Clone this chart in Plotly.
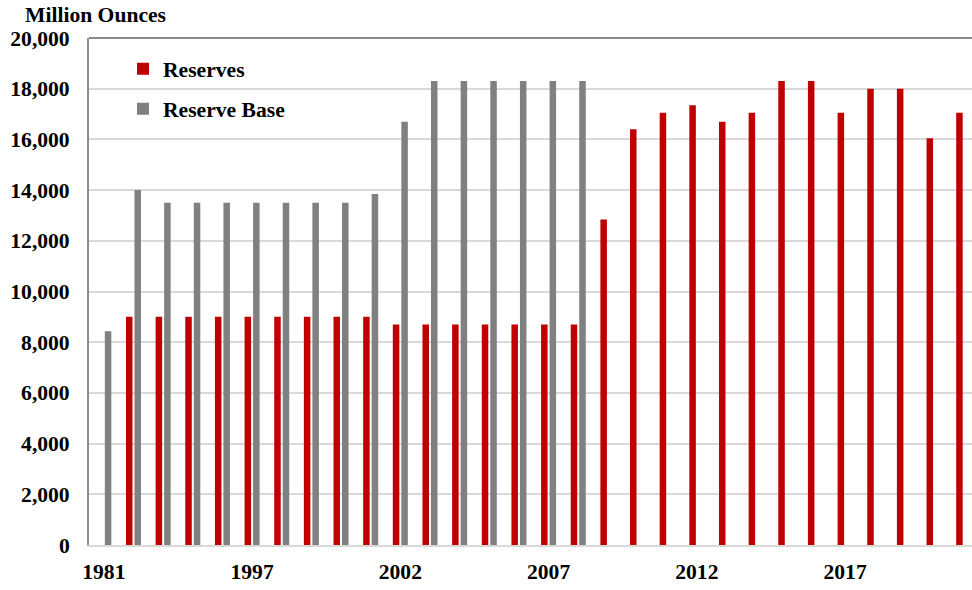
import plotly.graph_objects as go

years = ["1981"] + [str(y) for y in range(1993, 2022)]

reserves = [None,
            9000, 9000, 9000, 9000, 9000, 9000, 9000, 9000, 9000,
            8700, 8700, 8700, 8700, 8700, 8700, 8700,
            12840, 16400, 17050, 17350, 16700, 17050, 18300, 18300,
            17050, 18000, 18000, 16050, 17050]

reserve_base = [8430,
                14000, 13500, 13500, 13500, 13500, 13500, 13500, 13500, 13850,
                16700, 18300, 18300, 18300, 18300, 18300, 18300,
                None, None, None, None, None, None, None, None,
                None, None, None, None, None]

tick_years = ["1981", "1997", "2002", "2007", "2012", "2017"]

FONT = "Liberation Serif"
FS = 21.6

fig = go.Figure()
fig.add_trace(go.Bar(x=years, y=reserves, name="<b>Reserves</b>",
                     marker=dict(color="#C00000", line=dict(width=0)),
                     legendgroup="a"))
fig.add_trace(go.Bar(x=years, y=reserve_base, name="<b>Reserve Base</b>",
                     marker=dict(color="#808080", line=dict(width=0)),
                     legendgroup="b"))

fig.update_layout(
    width=972, height=590,
    margin=dict(l=89, r=0, t=38, b=45),
    paper_bgcolor="white", plot_bgcolor="white",
    barmode="group", bargap=0.426, bargroupgap=0.235,
    font=dict(family=FONT, size=FS, color="black"),
    title=dict(text="<b>Million Ounces</b>", x=25/972, xanchor="left",
               y=1-14/590, yanchor="middle", xref="container", yref="container",
               font=dict(family=FONT, size=FS, color="black")),
    showlegend=True,
    legend=dict(x=0.0385, y=0.98, xanchor="left", yanchor="top",
                bgcolor="rgba(0,0,0,0)", traceorder="grouped",
                tracegroupgap=9,
                font=dict(family=FONT, size=FS, color="black")),
    xaxis=dict(type="category", range=[-0.5, 29.28],
               tickmode="array", tickvals=tick_years,
               ticktext=["<b>%s</b>" % t for t in tick_years],
               showgrid=False, ticks="", showline=True, linecolor="#d9d9d9", linewidth=2,
               ticklabelstandoff=6,
               tickfont=dict(family=FONT, size=FS, color="black")),
    yaxis=dict(range=[0, 20000], dtick=2000, tickformat=",",
               showgrid=True, gridcolor="#d9d9d9", gridwidth=1.5,
               showline=True, linecolor="#8c8c8c", linewidth=2,
               ticks="", ticklabelstandoff=13, zeroline=False,
               tickprefix="<b>", ticksuffix="</b>",
               tickfont=dict(family=FONT, size=FS, color="black")),
    shapes=[dict(type="line", xref="paper", yref="paper", x0=0, x1=1, y0=1, y1=1,
                 line=dict(color="#8c8c8c", width=2))],
)

fig.write_html("out.html", config={"displayModeBar": False},
               post_script="document.body.style.margin='0';document.body.style.padding='0';")
